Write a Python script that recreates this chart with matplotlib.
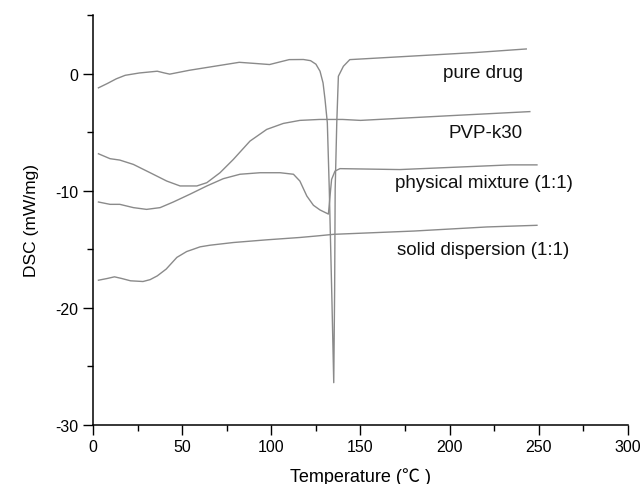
import matplotlib
matplotlib.use("Agg")
import matplotlib.pyplot as plt
from matplotlib.ticker import MultipleLocator

plt.rcParams['font.family'] = ['Liberation Sans', 'Noto Sans CJK SC', 'DejaVu Sans']
plt.rcParams['axes.unicode_minus'] = False

# DSC curves (temperature in C, heat flow in mW/mg)
pure_T = [3, 8, 13, 18, 26, 36, 40, 43, 54, 68, 82, 92, 99, 105, 110, 118, 122, 125, 127.3, 129,
          130.1, 131.4, 132.5, 134, 135, 135.5, 135.8, 136.7, 137.6, 140.4, 144, 180, 215, 243]
pure_y = [-1.22, -0.85, -0.45, -0.15, 0.05, 0.2, 0.05, -0.05, 0.28, 0.62, 0.96, 0.85, 0.77, 1.0,
          1.19, 1.2, 1.1, 0.8, 0.2, -0.8, -2.2, -4.2, -9.9, -19.5, -26.4, -18.5, -9.9, -4.2,
          -0.23, 0.62, 1.19, 1.5, 1.8, 2.1]

pvp_T = [3, 9.5, 15, 22.6, 32, 41.3, 48.8, 58.2, 63.8, 71.2, 78.7, 88, 97.4, 106.7, 116,
         127, 140, 150, 200, 245]
pvp_y = [-6.85, -7.27, -7.39, -7.76, -8.47, -9.18, -9.6, -9.6, -9.32, -8.47, -7.33, -5.77,
         -4.77, -4.26, -4.0, -3.92, -3.92, -4.0, -3.6, -3.25]

mix_T = [3, 9.5, 15, 22.6, 30, 37.6, 45, 54.4, 63.8, 73, 82.4, 93.7, 104.9, 112.4, 116, 119.9,
         123.6, 127.3, 132, 133.2, 133.8, 135.7, 138.5, 172, 234, 249]
mix_y = [-10.97, -11.17, -11.17, -11.45, -11.6, -11.45, -10.97, -10.3, -9.6, -8.98, -8.6, -8.47,
         -8.47, -8.6, -9.18, -10.46, -11.25, -11.65, -12.0, -10.0, -9.04, -8.33, -8.12, -8.2,
         -7.8, -7.8]

sd_T = [3, 8, 12, 16, 21, 28, 32, 36, 41, 47, 52.5, 56.3, 60, 65.6, 78.7, 97.4, 116, 125.5,
        135, 180, 221, 249]
sd_y = [-17.65, -17.5, -17.36, -17.5, -17.7, -17.76, -17.6, -17.28, -16.7, -15.7, -15.2, -15.0,
        -14.8, -14.66, -14.43, -14.2, -14.0, -13.87, -13.73, -13.45, -13.1, -12.96]

labels = ['pure drug', 'PVP-k30', 'physical mixture (1:1)', 'solid dispersion (1:1)']
label_x = [219, 220, 219, 219]
label_y = [0.1, -5.0, -9.3, -15.0]

fig = plt.figure(figsize=(6.42, 4.85), dpi=100)
ax = fig.add_axes([0.145, 0.122, 0.833, 0.845])

col = '#8a8a8a'
for T, y in [(pure_T, pure_y), (pvp_T, pvp_y), (mix_T, mix_y), (sd_T, sd_y)]:
    ax.plot(T, y, color=col, lw=1.0)

for s, x, y in zip(labels, label_x, label_y):
    ax.text(x, y, s, ha='center', va='center', fontsize=13.5, color='#111111')

ax.set_xlim(0, 300)
ax.set_ylim(-30, 5)
ax.xaxis.set_major_locator(MultipleLocator(50))
ax.xaxis.set_minor_locator(MultipleLocator(25))
ax.yaxis.set_major_locator(MultipleLocator(10))
ax.yaxis.set_minor_locator(MultipleLocator(5))
ax.tick_params(which='major', direction='out', length=7, width=1, labelsize=11.5)
ax.tick_params(which='minor', direction='out', length=4, width=1)
for side in ['top', 'right']:
    ax.spines[side].set_visible(False)
for side in ['left', 'bottom']:
    ax.spines[side].set_linewidth(1.1)

ax.set_xlabel('Temperature (℃ )', fontsize=13, labelpad=9)
ax.set_ylabel('DSC (mW/mg)', fontsize=12.5, labelpad=12)

fig.savefig('out.png', dpi=100)
